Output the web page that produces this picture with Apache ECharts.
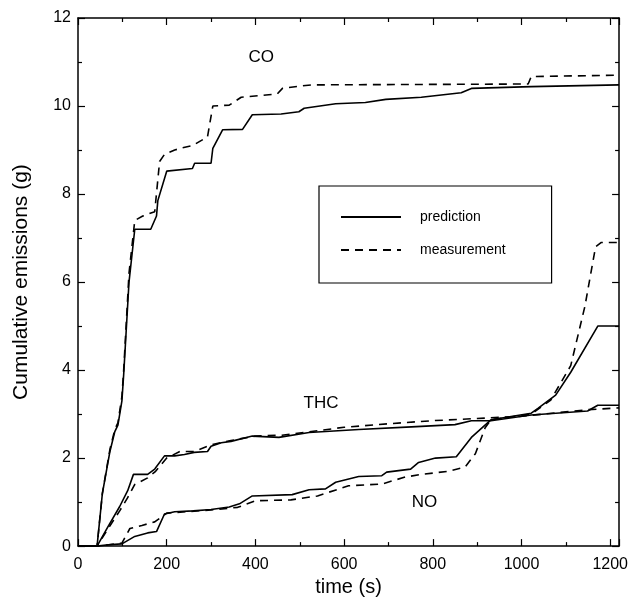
<!DOCTYPE html>
<html>
<head>
<meta charset="utf-8">
<script src="https://cdn.jsdelivr.net/npm/echarts@6/dist/echarts.min.js"></script>
<style>
  html, body { margin: 0; padding: 0; background: #fff; }
  #chart { width: 631px; height: 602px; }
</style>
</head>
<body>
<div id="chart"></div>
<script>
// time (s) / cumulative emissions (g)
var coPred = [[0,0],[43,0],[55,1.2],[72,2.15],[83,2.6],[90,2.75],[99,3.3],[103,3.9],[115,6.0],[128,7.2],[164,7.2],[177,7.5],[180,7.85],[200,8.52],[258,8.58],[263,8.7],[300,8.7],[304,9.04],[326,9.46],[371,9.47],[393,9.8],[458,9.82],[498,9.87],[510,9.95],[581,10.05],[648,10.08],[694,10.15],[774,10.2],[864,10.3],[887,10.4],[1022,10.44],[1220,10.48]];
var coMeas = [[0,0],[43,0],[55,1.2],[72,2.2],[83,2.65],[90,2.8],[99,3.4],[103,4.0],[115,6.2],[128,7.4],[146,7.5],[173,7.6],[184,8.74],[195,8.9],[218,9.0],[235,9.05],[258,9.1],[292,9.3],[304,10.0],[341,10.02],[368,10.2],[424,10.25],[449,10.27],[461,10.4],[498,10.45],[528,10.48],[1015,10.5],[1022,10.67],[1220,10.7]];
var thcPred = [[0,0],[43,0],[68,0.45],[94,0.9],[112,1.26],[125,1.63],[157,1.63],[173,1.75],[195,2.05],[218,2.05],[240,2.08],[262,2.13],[292,2.15],[300,2.27],[323,2.35],[345,2.38],[393,2.5],[453,2.47],[521,2.58],[633,2.65],[752,2.71],[850,2.76],[887,2.85],[931,2.85],[1022,2.98],[1149,3.07],[1172,3.2],[1220,3.2]];
var thcMeas = [[0,0],[43,0],[68,0.4],[94,0.8],[112,1.1],[128,1.4],[157,1.55],[175,1.7],[200,2.0],[230,2.15],[262,2.15],[300,2.3],[345,2.4],[400,2.5],[460,2.52],[600,2.7],[700,2.78],[800,2.85],[900,2.9],[1000,2.95],[1100,3.05],[1150,3.1],[1220,3.14]];
var noPred = [[0,0],[43,0],[68,0.03],[99,0.05],[128,0.22],[157,0.3],[177,0.33],[195,0.73],[218,0.78],[260,0.8],[300,0.83],[341,0.89],[364,0.96],[393,1.14],[483,1.17],[521,1.28],[558,1.3],[581,1.45],[633,1.58],[685,1.6],[696,1.68],[750,1.75],[768,1.9],[806,2.0],[853,2.03],[887,2.47],[931,2.87],[1022,3.02],[1037,3.13],[1077,3.43],[1111,3.95],[1172,5.0],[1220,5.0]];
var noMeas = [[0,0],[43,0],[70,0.03],[99,0.07],[117,0.4],[144,0.47],[173,0.55],[200,0.75],[300,0.82],[360,0.88],[400,1.03],[480,1.05],[540,1.14],[610,1.37],[685,1.41],[738,1.57],[775,1.63],[835,1.7],[873,1.8],[896,2.1],[918,2.69],[931,2.87],[1022,3.0],[1066,3.32],[1111,4.1],[1143,5.45],[1167,6.8],[1180,6.9],[1220,6.9]];
var gasLabels = [['CO', 413, 11.1], ['THC', 548, 3.25], ['NO', 781, 0.99]];

var chart = echarts.init(document.getElementById('chart'));
var font = 'Liberation Sans, Arial, sans-serif';

function axisCommon(show) {
  return {
    axisLine: { show: true, onZero: false, lineStyle: { color: '#000', width: 1.5 } },
    axisTick: { show: true, inside: true, length: 7, lineStyle: { color: '#000', width: 1.2 } },
    minorTick: { show: true, splitNumber: 2, length: 4, lineStyle: { color: '#000', width: 1.2 } },
    splitLine: { show: false },
    axisLabel: { show: show, color: '#000', fontSize: 16, fontFamily: font,
      formatter: function (v) { return String(v); } }
  };
}

var xBottom = Object.assign(axisCommon(true), {
  type: 'value', position: 'bottom', min: 0, max: 1220, interval: 200,
  name: 'time (s)', nameLocation: 'middle', nameGap: 27,
  nameTextStyle: { color: '#000', fontSize: 20, fontFamily: font }
});
xBottom.axisLabel.showMaxLabel = false;
xBottom.axisLabel.margin = 10;
var xTop = Object.assign(axisCommon(false), {
  type: 'value', position: 'top', min: 0, max: 1220, interval: 200
});
var yLeft = Object.assign(axisCommon(true), {
  type: 'value', position: 'left', min: 0, max: 12, interval: 2,
  name: 'Cumulative emissions (g)', nameLocation: 'middle', nameGap: 46,
  nameTextStyle: { color: '#000', fontSize: 21, fontFamily: font }
});
yLeft.axisLabel.margin = 7;
var yRight = Object.assign(axisCommon(false), {
  type: 'value', position: 'right', min: 0, max: 12, interval: 2
});

function solid(data) {
  return { name: 'prediction', type: 'line', data: data, symbol: 'none', animation: false,
    lineStyle: { color: '#000', width: 1.6 }, itemStyle: { color: '#000' } };
}
function dashed(data) {
  return { name: 'measurement', type: 'line', data: data, symbol: 'none', animation: false,
    lineStyle: { color: '#000', width: 1.6, type: [8, 6] }, itemStyle: { color: '#000' } };
}

var series = [solid(coPred), dashed(coMeas), solid(thcPred), dashed(thcMeas), solid(noPred), dashed(noMeas)];
series[0].markPoint = {
  symbol: 'circle', symbolSize: 0, animation: false,
  label: { show: true, position: 'inside', color: '#000', fontSize: 17, fontFamily: font,
    formatter: function (p) { return p.name; } },
  data: gasLabels.map(function (g) { return { name: g[0], coord: [g[1], g[2]] }; })
};

chart.setOption({
  backgroundColor: '#fff',
  animation: false,
  grid: { left: 78, right: 9, top: 18, bottom: 48 },
  legend: {
    data: ['prediction', 'measurement'],
    orient: 'vertical', left: 319, top: 186,
    itemWidth: 60, itemHeight: 14, itemGap: 19,
    padding: [24, 46, 26, 21],
    borderColor: '#000', borderWidth: 1.2,
    itemStyle: { opacity: 0 },
    textStyle: { color: '#000', fontSize: 14, fontFamily: font, padding: [0, 0, 0, 14] }
  },
  xAxis: [xBottom, xTop],
  yAxis: [yLeft, yRight],
  series: series
});
</script>
</body>
</html>
